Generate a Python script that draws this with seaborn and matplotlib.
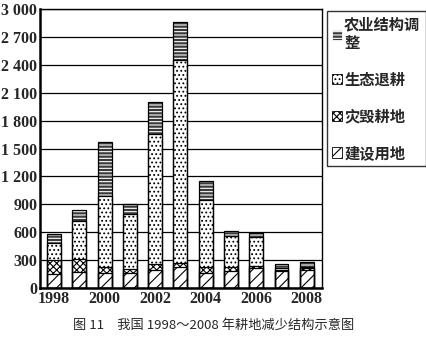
import matplotlib
matplotlib.use("Agg")
import matplotlib.pyplot as plt
import seaborn as sns
import pandas as pd
import numpy as np
from matplotlib.patches import Patch

years = ["1998", "1999", "2000", "2001", "2002", "2003", "2004", "2005", "2006", "2007", "2008"]
construction = [150, 175, 160, 165, 197, 229, 160, 180, 210, 180, 190]   # 建设用地
disaster = [150, 140, 65, 40, 56, 40, 60, 40, 30, 15, 25]                 # 灾毁耕地
ecology = [185, 400, 760, 590, 1400, 2190, 730, 340, 310, 20, 15]         # 生态退耕
agri = [90, 120, 590, 110, 350, 400, 200, 50, 40, 45, 50]                 # 农业结构调整
series_names = ["农业结构调整", "生态退耕", "灾毁耕地", "建设用地"]
yticks = [0, 300, 600, 900, 1200, 1500, 1800, 2100, 2400, 2700, 3000]
ytick_labels = ["0", "300", "600", "900", "1 200", "1 500", "1 800", "2 100", "2 400", "2 700", "3 000"]
xtick_labels = ["1998", "", "2000", "", "2002", "", "2004", "", "2006", "", "2008"]
caption = "图 11　我国 1998～2008 年耕地减少结构示意图"

sns.set_style("white")
plt.rcParams['font.family'] = ['Liberation Serif', 'Noto Sans CJK SC', 'DejaVu Sans']
plt.rcParams['hatch.linewidth'] = 0.8

df = pd.DataFrame({"year": years, "建设用地": construction, "灾毁耕地": disaster,
                   "生态退耕": ecology, "农业结构调整": agri})
layers = ["建设用地", "灾毁耕地", "生态退耕", "农业结构调整"]
cum = df[layers].cumsum(axis=1)

styles = {
    "农业结构调整": dict(facecolor="#3a3a3a", hatch="-----", edgecolor="white"),
    "生态退耕": dict(facecolor="white", hatch="....", edgecolor="black"),
    "灾毁耕地": dict(facecolor="white", hatch="xxxxx", edgecolor="black"),
    "建设用地": dict(facecolor="white", hatch="///", edgecolor="black"),
}

fig = plt.figure(figsize=(4.27, 3.46), dpi=100)
ax = fig.add_axes([0.094, 0.168, 0.66, 0.805])

# draw cumulative totals from top layer downward so lower layers overlay
for name in reversed(layers):
    st = styles[name]
    sns.barplot(x=df["year"], y=cum[name], ax=ax, width=0.55, color=st["facecolor"],
                hatch=st["hatch"], edgecolor=st["edgecolor"], linewidth=0, saturation=1)
# segment outlines
for name in layers:
    sns.barplot(x=df["year"], y=cum[name], ax=ax, width=0.55, fill=False,
                edgecolor="black", linewidth=0.9)

ax.set_ylim(0, 3000)
ax.set_xlim(-0.55, 10.6)
ax.set_yticks(yticks)
ax.set_yticklabels(ytick_labels, fontweight="bold", fontsize=11.5)
ax.set_xticks(range(len(years)))
ax.set_xticklabels(xtick_labels, fontweight="bold", fontsize=11.5)
ax.set_xlabel("")
ax.set_ylabel("")
ax.tick_params(axis="both", length=0, pad=2)
ax.yaxis.grid(True, color="black", linewidth=0.9)
ax.set_axisbelow(True)
for s in ax.spines.values():
    s.set_color("black")
    s.set_linewidth(1.0)
ax.spines["left"].set_linewidth(1.8)
ax.spines["bottom"].set_linewidth(1.8)

handles = [Patch(**styles[n]) for n in series_names]
for h in handles:
    h.set_linewidth(0.6)
labels = ["农业结构调\n整", "生态退耕", "灾毁耕地", "建设用地"]
leg = fig.legend(handles, labels, loc="upper right", bbox_to_anchor=(0.997, 0.968),
                 frameon=True, fancybox=False, edgecolor="black",
                 handlelength=0.65, handleheight=0.65, handletextpad=0.15,
                 labelspacing=1.35, borderpad=0.35, borderaxespad=0,
                 prop={'family': ['Noto Sans CJK SC'], 'size': 11, 'weight': 'bold'})
leg.get_frame().set_linewidth(1.0)

fig.text(0.5, 0.06, caption, ha="center", va="center", fontsize=9.5,
         family=['Noto Sans CJK SC', 'DejaVu Sans'])

fig.savefig("out.png", dpi=100)
